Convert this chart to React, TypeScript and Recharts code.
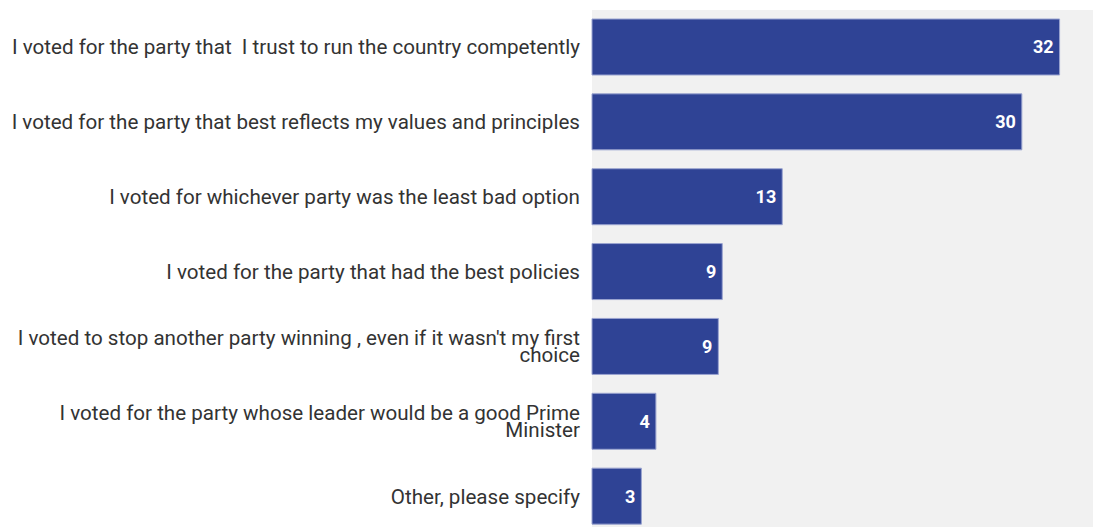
import { BarChart, Bar, XAxis, YAxis, CartesianGrid, LabelList } from "recharts";

const reasons = [
  "I voted for the party that  I trust to run the country competently",
  "I voted for the party that best reflects my values and principles",
  "I voted for whichever party was the least bad option",
  "I voted for the party that had the best policies",
  "I voted to stop another party winning , even if it wasn't my first\nchoice",
  "I voted for the party whose leader would be a good Prime\nMinister",
  "Other, please specify",
];

const shares = [32.2, 29.6, 13.1, 8.97, 8.7, 4.4, 3.4];

const chartData = reasons.map((reason, i) => ({ reason, share: shares[i] }));

function ReasonTick(props: any) {
  const { x, y, payload } = props;
  const lines: string[] = String(payload.value).split("\n");
  const lineHeight = 17;
  const startDy = -((lines.length - 1) * lineHeight) / 2;
  return (
    <text
      x={x}
      y={y}
      textAnchor="end"
      fill="#333333"
      fontSize={20.6}
      fontFamily="Roboto, sans-serif"
      style={{ whiteSpace: "pre" }}
    >
      {lines.map((line, i) => (
        <tspan key={i} x={x} dy={i === 0 ? startDy : lineHeight} dominantBaseline="central">
          {line}
        </tspan>
      ))}
    </text>
  );
}

export default function App() {
  return (
    <div style={{ position: "absolute", left: 8, top: 8, width: 1085, height: 519, overflow: "hidden" }}>
      <BarChart
        width={1085}
        height={526}
        data={chartData}
        layout="vertical"
        margin={{ top: 2, right: 0, bottom: 0, left: 0 }}
        barSize={56}
      >
        <CartesianGrid fill="#f1f1f1" stroke="none" horizontal={false} vertical={false} />
        <XAxis type="number" domain={[0, 34.5]} hide />
        <YAxis
          type="category"
          dataKey="reason"
          width={584}
          tickLine={false}
          axisLine={false}
          tickMargin={6}
          tick={<ReasonTick />}
          interval={0}
        />
        <Bar dataKey="share" fill="#2f4395" stroke="#9aa4d0" strokeWidth={1} isAnimationActive={false}>
          <LabelList
            dataKey="share"
            position="insideRight"
            offset={6}
            fill="#ffffff"
            fontSize={18}
            fontWeight="bold"
            fontFamily="Roboto, sans-serif"
            formatter={(v: any) => Math.round(Number(v))}
          />
        </Bar>
      </BarChart>
    </div>
  );
}
